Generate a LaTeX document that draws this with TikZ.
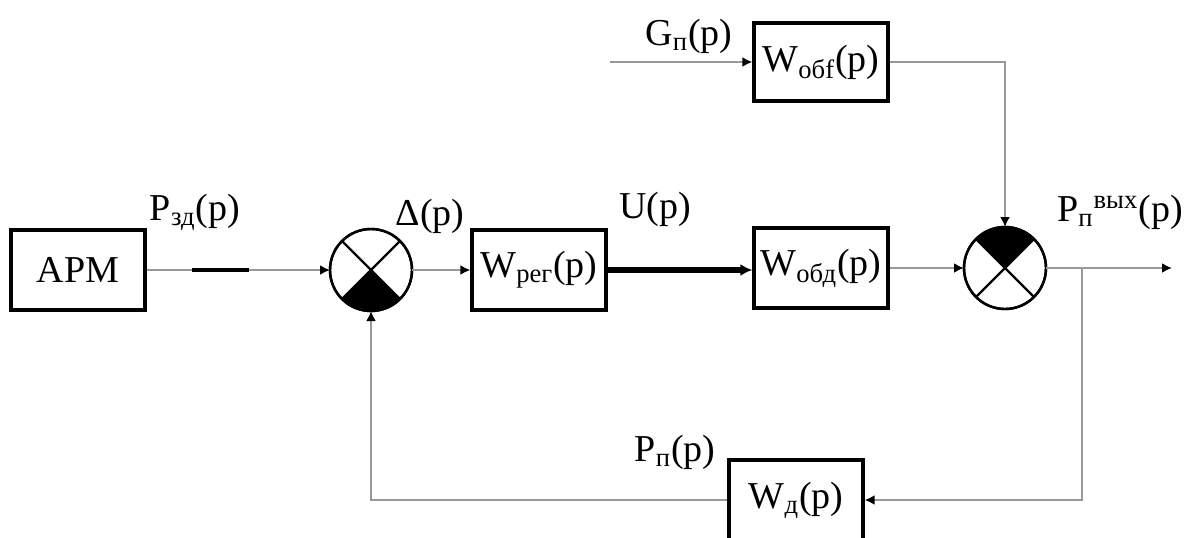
\documentclass[tikz,border=0pt]{standalone}
\usepackage{fontspec}
\setmainfont{Liberation Serif}
\newfontfamily\cyrserif{Liberation Serif}
\usetikzlibrary{arrows.meta,calc}

\begin{document}
\begin{tikzpicture}[x=0.5pt, y=-0.5pt,
  every node/.style={font=\cyrserif\fontsize{19}{22}\selectfont},
  blk/.style={draw, line width=1.6pt, minimum width=67pt, minimum height=40pt, inner sep=0pt},
  summ/.style={circle, draw, line width=1.2pt, minimum size=41pt, inner sep=0pt, outer sep=0pt},
  sig/.style={draw=black!40, line width=1.4pt},
  tip/.style={-{Latex[length=5pt,width=5pt,color=black]}}] % {{{
\pgfmathsetmacro{\rsum}{20.5}
\useasboundingbox (0,0) rectangle (1184,537);
% Bloques   {{{
\node[blk] (apm) at (78,270) {АРМ};
\node[summ] (s1) at (371,270) {};
\node[blk] (wreg) at (539,270) {W\textsubscript{рег}(p)};
\node[blk] (wobd) at (821,268) {W\textsubscript{обд}(p)};
\node[summ] (s2) at (1005,268) {};
\node[blk, minimum height=39pt] (wobf) at (821,62) {W\textsubscript{обf}(p)};
\node[blk] (wd) at (796,500) {W\textsubscript{д}(p)};
\coordinate (gin) at (610,62);
\coordinate (out) at (1172,268);
\coordinate (br) at (1082,268);
% }}}
% Sumadores   {{{
\fill (s1.center) -- (s1.-45) arc[start angle=-45, end angle=-135, radius=\rsum pt] -- cycle;
\draw[line width=1.2pt] (s1.45) -- (s1.-135) (s1.135) -- (s1.-45);
\draw[line width=1.2pt] (s1) circle[radius=\rsum pt];
\fill (s2.center) -- (s2.45) arc[start angle=45, end angle=135, radius=\rsum pt] -- cycle;
\draw[line width=1.2pt] (s2.45) -- (s2.-135) (s2.135) -- (s2.-45);
\draw[line width=1.2pt] (s2) circle[radius=\rsum pt];
% }}}
% Conexiones   {{{
\draw[sig,tip] (apm) -- (s1);
\draw[line width=2pt] ($(apm.east)!0.25!(s1.west)$) -- ($(apm.east)!0.56!(s1.west)$);
\draw[sig,tip] (s1) -- (wreg);
\draw[line width=2.6pt, -{Latex[length=6pt,width=6pt]}] (wreg) -- (wreg -| wobd.west);
\draw[sig,tip] (wobd) -- (s2);
\draw[sig,tip] (s2) -- (out);
\draw[sig,tip] (br) |- (wd);
\draw[sig,tip] (wd) -| (s1);
\draw[sig,tip] (gin) -- (wobf);
\draw[sig,tip] (wobf) -| (s2);
% }}}
% Etiquetas   {{{
\node (pzd) at (195,212) {P\textsubscript{зд}(p)};
\node (delta) at (430,216) {Δ(p)};
\node (u) at (655,209) {U(p)};
\node (gp) at (689,36) {G\textsubscript{п}(p)};
\node (pvyh) at (1120,212) {P\textsubscript{п}\textsuperscript{вых}(p)};
\node (pp) at (675,452) {P\textsubscript{п}(p)};
% }}}
\end{tikzpicture} % }}}
\end{document}
